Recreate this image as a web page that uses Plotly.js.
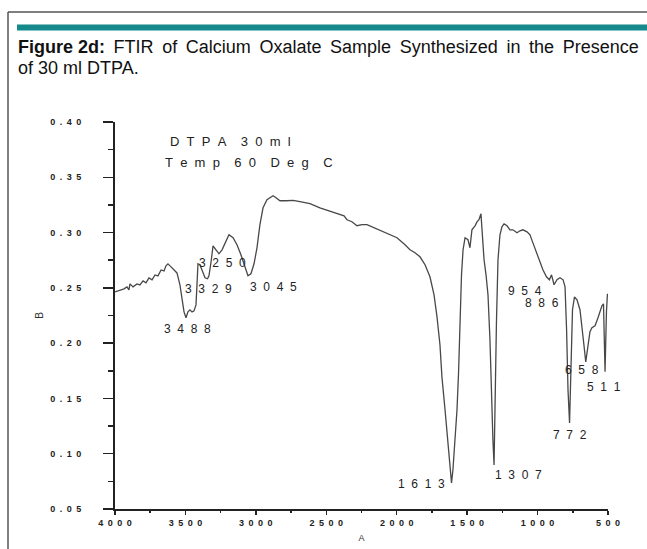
<!DOCTYPE html>
<html><head><meta charset="utf-8">
<script src="https://cdn.plot.ly/plotly-3.0.1.min.js"></script>
<style>html,body{margin:0;padding:0;background:#fff;} #chart{width:647px;height:549px;}</style>
</head><body><div id="chart"></div>
<script>
// ---- data ----
const wavenumber = [4000,3964,3936,3915,3901,3894,3872,3844,3823,3801,
3780,3759,3737,3716,3695,3673,3652,3638,3624,3602,
3581,3560,3539,3524,3510,3496,3482,3468,3453,3439,
3425,3418,3411,3397,3375,3361,3343,3333,3318,3304,
3283,3262,3240,3219,3191,3162,3134,3106,3077,3056,
3035,3013,2992,2971,2949,2921,2900,2878,2857,2829,
2786,2736,2687,2616,2545,2474,2403,2374,2353,2318,
2282,2246,2211,2161,2119,2062,1998,1941,1906,1870,
1835,1799,1764,1735,1714,1693,1679,1657,1643,1629,
1622,1611,1601,1586,1572,1561,1551,1540,1529,1515,
1494,1480,1466,1444,1430,1416,1402,1394,1380,1366,
1352,1338,1327,1317,1309,1302,1292,1281,1267,1253,
1238,1217,1196,1175,1146,1125,1104,1075,1054,1033,
1004,983,962,937,916,901,883,862,841,819,
805,794,784,773,763,752,738,720,699,685,
671,658,642,628,614,592,571,557,543,532,
521,511,504];
const absorbance = [0.2464,0.2482,0.2491,0.2509,0.2482,0.2536,0.2509,0.2536,0.2527,0.2563,
0.2545,0.2590,0.2572,0.2617,0.2608,0.2662,0.2653,0.2699,0.2717,0.2690,
0.2662,0.2635,0.2527,0.2391,0.2283,0.2229,0.2283,0.2301,0.2283,0.2292,
0.2346,0.2527,0.2718,0.2709,0.2646,0.2591,0.2582,0.2609,0.2736,0.2880,
0.2844,0.2808,0.2844,0.2908,0.2980,0.2953,0.2890,0.2799,0.2691,0.2609,
0.2627,0.2718,0.2862,0.3071,0.3224,0.3297,0.3315,0.3333,0.3315,0.3288,
0.3288,0.3292,0.3279,0.3261,0.3224,0.3197,0.3170,0.3152,0.3116,0.3098,
0.3062,0.3071,0.3071,0.3043,0.3025,0.2989,0.2953,0.2890,0.2844,0.2817,
0.2781,0.2709,0.2600,0.2437,0.2238,0.1985,0.1695,0.1398,0.1215,0.1034,
0.0926,0.0736,0.0853,0.1125,0.1398,0.1732,0.2184,0.2618,0.2845,0.2953,
0.2935,0.2863,0.3025,0.3061,0.3097,0.3116,0.3170,0.2998,0.2754,0.2618,
0.2437,0.2030,0.1487,0.1125,0.0899,0.1487,0.2184,0.2754,0.2980,0.3052,
0.3079,0.3061,0.3025,0.3025,0.2998,0.3016,0.3025,0.3007,0.2980,0.2907,
0.2808,0.2736,0.2663,0.2600,0.2573,0.2618,0.2528,0.2573,0.2591,0.2573,
0.2510,0.2121,0.1578,0.1279,0.1849,0.2302,0.2419,0.2392,0.2302,0.2166,
0.1985,0.1831,0.1985,0.2103,0.2139,0.2157,0.2229,0.2293,0.2338,0.2356,
0.1741,0.2284,0.2447];

const xTickValues = [4000,3500,3000,2500,2000,1500,1000,500];
const xTickLabels = ["4000","3500","3000","2500","2000","1500","1000","500"];
const xMinorValues = [3750,3250,2750,2250,1750,1250,750];
const yTickValues = [0.05,0.10,0.15,0.20,0.25,0.30,0.35,0.40];
const yTickLabels = ["0.05","0.10","0.15","0.20","0.25","0.30","0.35","0.40"];
const yMinorValues = [0.075,0.125,0.175,0.225,0.275,0.325,0.375];

const peakLabels = ["3250","3329","3045","3488","1613","1307","772","511","658","954","886"];
const sampleLabels = ["DTPA 30ml","Temp 60 Deg C"];
const captionBold = "Figure 2d:";
const captionLine1 = "FTIR of Calcium Oxalate Sample Synthesized in the Presence";
const captionLine2 = "of 30 ml DTPA.";
const xAxisTitle = "A";
const yAxisTitle = "B";

// ---- layout helpers ----
const W = 647, H = 549, L = 115, R = 608, T = 122, B = 509;
const px2x = p => (p - L) / (R - L);
const py2y = p => (B - p) / (B - T);
function spaced(s, sep, wordSep) {
  return s.split(' ').map(w => w.split('').join(sep)).join(wordSep);
}
const NB = '\u00A0';
const FONT = 'Liberation Sans, Arial, sans-serif';

// label positions (layout only): [wavenumber, absorbance] of the label's left/middle
const peakLabelPos = [[3418,0.2727],[3517,0.2491],[3056,0.2509],[3666,0.2129],[2005,0.0726],
  [1316,0.0807],[905,0.1170],[663,0.1605],[820,0.1759],[1224,0.2473],[1103,0.2365]];
const sampleLabelPos = [[3624,0.3822],[3659,0.3632]];

const annotations = [];
peakLabels.forEach((t, i) => annotations.push({
  x: peakLabelPos[i][0], y: peakLabelPos[i][1], xref: 'x', yref: 'y',
  text: spaced(t, NB+NB, NB+NB+NB), showarrow: false, xanchor: 'left', yanchor: 'middle',
  font: {family: FONT, size: 12, color: '#222'}
}));
sampleLabels.forEach((t, i) => annotations.push({
  x: sampleLabelPos[i][0], y: sampleLabelPos[i][1], xref: 'x', yref: 'y',
  text: spaced(t, NB+NB, NB+NB+NB+NB), showarrow: false, xanchor: 'left', yanchor: 'middle',
  font: {family: FONT, size: 13, color: '#222'}
}));
annotations.push({
  x: px2x(16), y: py2y(47), xref: 'paper', yref: 'paper', xanchor: 'left', yanchor: 'middle',
  showarrow: false,
  text: '<b>' + captionBold + '</b>\u2009 ' + captionLine1.split(' ').join('\u2009 '),
  font: {family: FONT, size: 18, color: '#111'}
});
annotations.push({
  x: px2x(16), y: py2y(68), xref: 'paper', yref: 'paper', xanchor: 'left', yanchor: 'middle',
  showarrow: false, text: captionLine2,
  font: {family: FONT, size: 18, color: '#111'}
});

const shapes = [
  {type: 'line', xref: 'paper', yref: 'paper', x0: px2x(8), x1: px2x(8), y0: py2y(12), y1: py2y(560),
   line: {color: '#555', width: 1.5}},
  {type: 'line', xref: 'paper', yref: 'paper', x0: px2x(8), x1: px2x(660), y0: py2y(12), y1: py2y(12),
   line: {color: '#555', width: 1.5}},
  {type: 'rect', xref: 'paper', yref: 'paper', x0: px2x(17), x1: px2x(660), y0: py2y(30.5), y1: py2y(24.5),
   fillcolor: '#15898b', line: {width: 0}}
];

const tickFont = {family: FONT, size: 9, color: '#222', weight: 'bold'};

const trace = {
  x: wavenumber, y: absorbance, type: 'scatter', mode: 'lines',
  line: {color: '#484848', width: 1.3}, hoverinfo: 'skip'
};

const layout = {
  width: W, height: H,
  margin: {l: L, r: W - R, t: T, b: H - B, pad: 0},
  paper_bgcolor: '#fff', plot_bgcolor: '#fff',
  showlegend: false,
  xaxis: {
    range: [4000, 500], showgrid: false, zeroline: false,
    showline: true, linecolor: '#222', linewidth: 2,
    ticks: 'outside', ticklen: 4, tickwidth: 1.5, tickcolor: '#222',
    tickmode: 'array', tickvals: xTickValues, ticktext: xTickLabels.map(s => spaced(s, '\u2002', '\u2002')),
    tickfont: tickFont,
    minor: {tickmode: 'array', tickvals: xMinorValues, ticks: 'outside', ticklen: 2, tickwidth: 1.5, tickcolor: '#222', showgrid: false},
    title: {text: xAxisTitle, font: {family: FONT, size: 9, color: '#333'}, standoff: 8},
    automargin: false
  },
  yaxis: {
    range: [0.05, 0.40], showgrid: false, zeroline: false,
    showline: true, linecolor: '#222', linewidth: 2,
    ticks: 'outside', ticklen: 10, tickwidth: 1.5, tickcolor: '#222',
    tickmode: 'array', tickvals: yTickValues, ticktext: yTickLabels.map(s => spaced(s, '\u2002', '\u2002')),
    tickfont: tickFont, ticklabelstandoff: 20,
    minor: {tickmode: 'array', tickvals: yMinorValues, ticks: 'outside', ticklen: 5, tickwidth: 1.5, tickcolor: '#222', showgrid: false},
    title: {text: yAxisTitle, font: {family: FONT, size: 10, color: '#333'}, standoff: 5},
    automargin: false
  },
  annotations: annotations,
  shapes: shapes
};

Plotly.newPlot('chart', [trace], layout, {staticPlot: true, displayModeBar: false});
</script>
</body></html>
